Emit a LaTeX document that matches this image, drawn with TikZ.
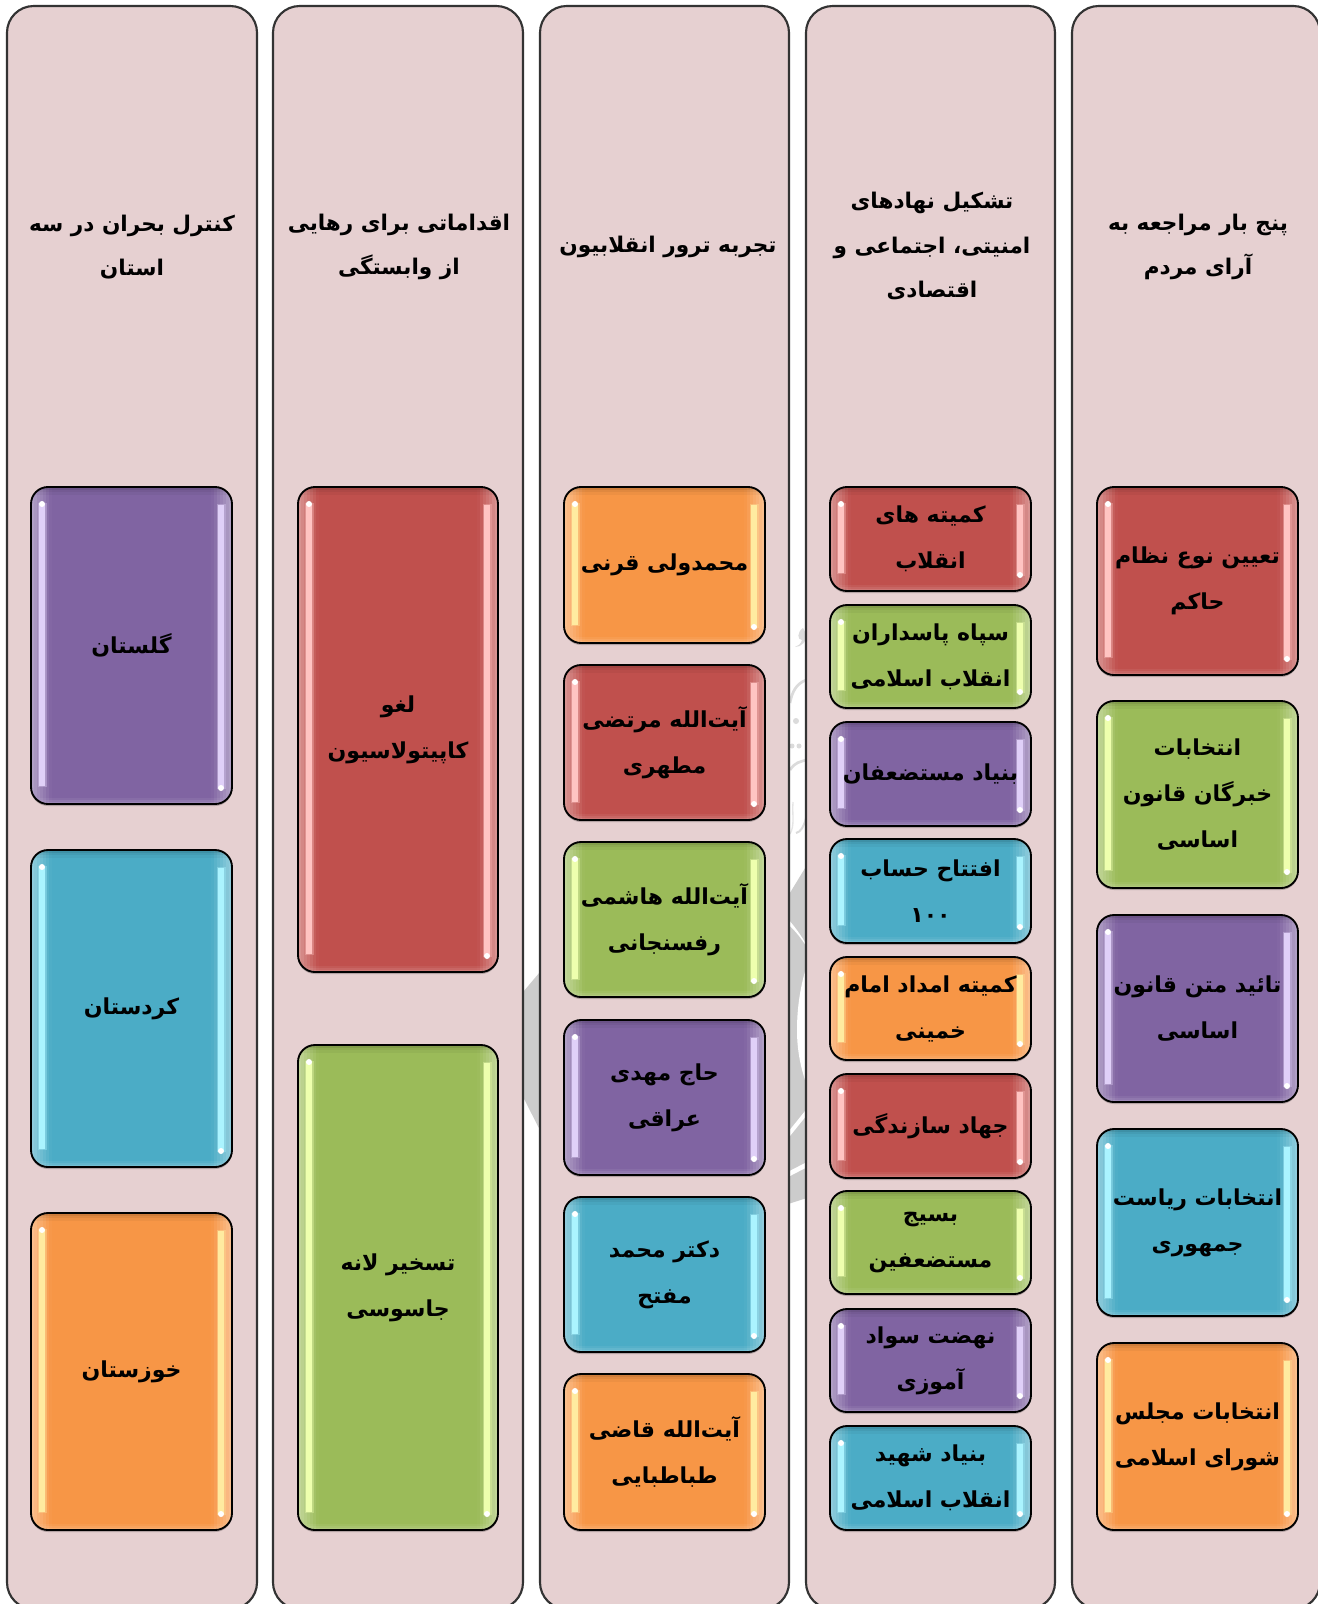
\documentclass[tikz,border=0pt]{standalone}
\usepackage{fontspec}
\usetikzlibrary{calc,shadows}
\TeXXeTstate=1
\newfontfamily\arabicfont[Script=Arabic,BoldFont={DejaVu Sans Bold}]{DejaVu Sans}
\newcommand{\fa}[1]{\beginR#1\endR}
\newdimen\pxu \pxu=0.75pt
\definecolor{panelpink}{HTML}{E6D0D1}
\definecolor{cred}{HTML}{C0504D}
\definecolor{cgreen}{HTML}{9BBB59}
\definecolor{cpurple}{HTML}{8064A2}
\definecolor{caqua}{HTML}{4BACC6}
\definecolor{corange}{HTML}{F79646}
\definecolor{hred}{HTML}{FFC4C2}
\definecolor{hgreen}{HTML}{EEFFAE}
\definecolor{hpurple}{HTML}{E0D0F8}
\definecolor{haqua}{HTML}{ABF4FF}
\definecolor{horange}{HTML}{FFEBA0}
\definecolor{wmark}{HTML}{CCCCCC}
\tikzset{
  x=0.75pt,y=-0.75pt,
  panel/.style={draw=black!80,line width=1.6pt,fill=panelpink,rounded corners=20pt},
  title/.style={font=\arabicfont\bfseries\fontsize{16.2pt}{33.5pt}\selectfont,align=center,text=black,inner sep=0pt},
  gbox/.style 2 args={draw=black,line width=1.4pt,rounded corners=17\pxu,fill=#1,inner sep=0pt,
    font=\arabicfont\bfseries\fontsize{16.5pt}{34.5pt}\selectfont,align=center,text=black,
    preaction={fill=black,fill opacity=.22,transform canvas={yshift=-2\pxu}},
    path picture={
      \begin{scope}[sharp corners]
      \foreach \i [evaluate=\i as \m using int(62+\i*6)] in {0,...,6} {
        \fill[#1!\m!white] ([xshift=\i*3*\pxu]path picture bounding box.north west) rectangle ([xshift=\i*3*\pxu+3.3*\pxu]path picture bounding box.south west);
        \fill[#1!\m!white] ([xshift=-\i*3*\pxu]path picture bounding box.north east) rectangle ([xshift=-\i*3*\pxu-3.3*\pxu]path picture bounding box.south east);
      }
      \foreach \i/\o/\w in {0/.16/.22,1/.09/.13,2/.04/.06} {
        \fill[black,fill opacity=\o] ([yshift=-\i*2.5*\pxu]path picture bounding box.north west) rectangle ([yshift=-\i*2.5*\pxu-2.5*\pxu]path picture bounding box.north east);
        \fill[white,fill opacity=\w] ([yshift=\i*2*\pxu]path picture bounding box.south west) rectangle ([yshift=\i*2*\pxu+2*\pxu]path picture bounding box.south east);
      }
      \fill[#2,fill opacity=.35] ([xshift=6.5\pxu,yshift=-16\pxu]path picture bounding box.north west) rectangle ([xshift=15.5\pxu,yshift=17\pxu]path picture bounding box.south west);
      \fill[#2,fill opacity=.35] ([xshift=-6.5\pxu,yshift=-17\pxu]path picture bounding box.north east) rectangle ([xshift=-15.5\pxu,yshift=15\pxu]path picture bounding box.south east);
      \fill[#2] ([xshift=8\pxu,yshift=-17\pxu]path picture bounding box.north west) rectangle ([xshift=14\pxu,yshift=18\pxu]path picture bounding box.south west);
      \fill[#2] ([xshift=-8\pxu,yshift=-18\pxu]path picture bounding box.north east) rectangle ([xshift=-14\pxu,yshift=16\pxu]path picture bounding box.south east);
      \fill[white] ([xshift=11\pxu,yshift=-17\pxu]path picture bounding box.north west) circle (3\pxu);
      \fill[white] ([xshift=-11\pxu,yshift=16\pxu]path picture bounding box.south east) circle (3\pxu);
      \end{scope}
    }},
  gred/.style={gbox={cred}{hred}},
  ggreen/.style={gbox={cgreen}{hgreen}},
  gpurple/.style={gbox={cpurple}{hpurple}},
  gaqua/.style={gbox={caqua}{haqua}},
  gorange/.style={gbox={corange}{horange}},
}
% name, x1, y1, x2, y2, style, text
\newcommand{\gb}[7]{\node[#6,minimum width={(#4-#2)*0.75pt},minimum height={(#5-#3)*0.75pt}] (#1) at ({(#2+#4)/2},{(#3+#5)/2}) {#7};}
\newcommand{\pn}[3]{\draw[panel] (#2,6) rectangle (#3,1609); }
\begin{document}
\begin{tikzpicture}
\useasboundingbox (0,0) rectangle (1318,1604);
\clip (0,0) rectangle (1318,1604);
\fill[white] (0,0) rectangle (1318,1604);
% watermark seen through the gaps between the panels
\fill[wmark] (518,998) -- (545,966) -- (545,1140) -- (518,1087) -- cycle;
\fill[wmark] (785,901) -- (810,860) -- (810,1197) -- (785,1205) -- cycle;
\fill[white] (785,916) .. controls (793,924) and (802,936) .. (810,951) -- (810,1094) .. controls (803,1076) and (797,1056) .. (797,1030) .. controls (797,1000) and (803,975) .. (810,956) -- (810,952) .. controls (800,936) and (793,928) .. (785,922) -- cycle;
\draw[white,line width=3pt] (785,1139) -- (810,1108);
\draw[white,line width=3.5pt] (785,1176) -- (810,1163);
% calligraphic marks
\fill[wmark!70!white] (803,628) .. controls (797,632) and (797,640) .. (802,640) .. controls (801,644) and (798,646) .. (795,647) .. controls (801,647) and (808,642) .. (805,632) -- cycle;
\draw[wmark!70!white,line width=2pt] (806,680) .. controls (796,684) and (792,692) .. (790,703);
\fill[wmark!70!white] (796,721) circle (3);
\fill[wmark!70!white] (792,746) circle (2.5);
\fill[wmark!70!white] (799,746) circle (2.5);
\draw[wmark!70!white,line width=2pt] (790,770) .. controls (795,762) and (800,762) .. (806,760);
\draw[wmark!50!white,line width=1pt] (793,802) .. controls (792,815) and (795,825) .. (790,834);
\draw[wmark!70!white,line width=1.5pt] (796,833) .. controls (801,832) and (804,826) .. (806,818);
% panels
\pn{p1}{7}{257}
\pn{p2}{273}{523}
\pn{p3}{540}{789}
\pn{p4}{806}{1055}
\pn{p5}{1072}{1320}
% titles
\node[title] (t1) at (132,247) {\fa{کنترل بحران در سه}\\\fa{استان}};
\node[title] (t2) at (399,247) {\fa{اقداماتی برای رهایی}\\\fa{از وابستگی}};
\node[title] (t3) at (668,247) {\fa{تجربه ترور انقلابیون}};
\node[title] (t4) at (932,246) {\fa{تشکیل نهادهای}\\\fa{امنیتی، اجتماعی و}\\\fa{اقتصادی}};
\node[title] (t5) at (1198,247) {\fa{پنج بار مراجعه به}\\\fa{آرای مردم}};
% column 1
\gb{a1}{31}{487}{232}{804}{gpurple}{\fa{گلستان}}
\gb{a2}{31}{850}{232}{1167}{gaqua}{\fa{کردستان}}
\gb{a3}{31}{1213}{232}{1530}{gorange}{\fa{خوزستان}}
% column 2
\gb{b1}{298}{487}{498}{972}{gred}{\fa{لغو}\\\fa{کاپیتولاسیون}}
\gb{b2}{298}{1045}{498}{1530}{ggreen}{\fa{تسخیر لانه}\\\fa{جاسوسی}}
% column 3
\gb{c1}{564}{487}{765}{643}{gorange}{\fa{محمدولی قرنی}}
\gb{c2}{564}{665}{765}{820}{gred}{\fa{آیت‌الله مرتضی}\\\fa{مطهری}}
\gb{c3}{564}{842}{765}{997}{ggreen}{\fa{آیت‌الله هاشمی}\\\fa{رفسنجانی}}
\gb{c4}{564}{1020}{765}{1175}{gpurple}{\fa{حاج مهدی}\\\fa{عراقی}}
\gb{c5}{564}{1197}{765}{1352}{gaqua}{\fa{دکتر محمد}\\\fa{مفتح}}
\gb{c6}{564}{1374}{765}{1530}{gorange}{\fa{آیت‌الله قاضی}\\\fa{طباطبایی}}
% column 4
\gb{d1}{830}{487}{1031}{591}{gred}{\fa{کمیته های}\\\fa{انقلاب}}
\gb{d2}{830}{605}{1031}{708}{ggreen}{\fa{سپاه پاسداران}\\\fa{انقلاب اسلامی}}
\gb{d3}{830}{722}{1031}{826}{gpurple}{\fa{بنیاد مستضعفان}}
\gb{d4}{830}{839}{1031}{943}{gaqua}{\fa{افتتاح حساب}\\\fa{۱۰۰}}
\gb{d5}{830}{957}{1031}{1060}{gorange}{\fa{کمیته امداد امام}\\\fa{خمینی}}
\gb{d6}{830}{1074}{1031}{1178}{gred}{\fa{جهاد سازندگی}}
\gb{d7}{830}{1191}{1031}{1294}{ggreen}{\fa{بسیج}\\\fa{مستضعفین}}
\gb{d8}{830}{1309}{1031}{1412}{gpurple}{\fa{نهضت سواد}\\\fa{آموزی}}
\gb{d9}{830}{1426}{1031}{1530}{gaqua}{\fa{بنیاد شهید}\\\fa{انقلاب اسلامی}}
% column 5
\gb{e1}{1097}{487}{1298}{675}{gred}{\fa{تعیین نوع نظام}\\\fa{حاکم}}
\gb{e2}{1097}{701}{1298}{888}{ggreen}{\fa{انتخابات}\\\fa{خبرگان قانون}\\\fa{اساسی}}
\gb{e3}{1097}{915}{1298}{1102}{gpurple}{\fa{تائید متن قانون}\\\fa{اساسی}}
\gb{e4}{1097}{1129}{1298}{1316}{gaqua}{\fa{انتخابات ریاست}\\\fa{جمهوری}}
\gb{e5}{1097}{1343}{1298}{1530}{gorange}{\fa{انتخابات مجلس}\\\fa{شورای اسلامی}}
\end{tikzpicture}
\end{document}
